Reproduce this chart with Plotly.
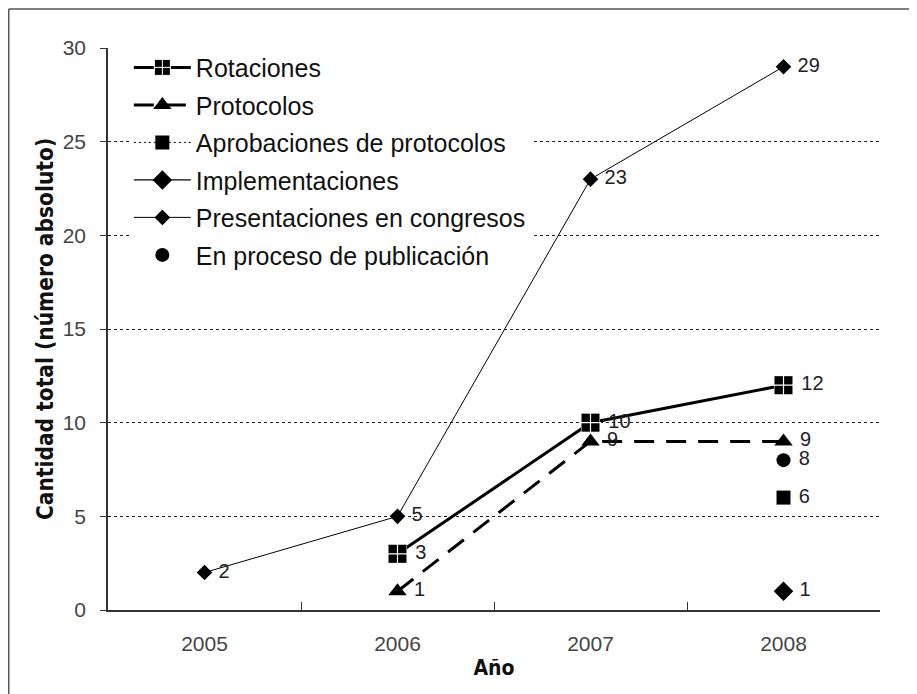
import plotly.graph_objects as go

years = ["2005", "2006", "2007", "2008"]
rotaciones = [None, 3, 10, 12]
protocolos = [None, 1, 9, 9]
aprobaciones = [None, None, None, 6]
implementaciones = [None, None, None, 1]
presentaciones = [2, 5, 23, 29]
publicacion = [None, None, None, 8]

def labels(vals):
    return ["" if v is None else "\u00a0" + str(v) for v in vals]

lab_font = dict(family="Liberation Sans, Arial, sans-serif", size=20, color="#222")
cond = "DejaVu Sans Condensed, Liberation Sans Narrow, Arial Narrow, sans-serif"

fig = go.Figure()

fig.add_trace(go.Scatter(
    x=years, y=rotaciones, name="Rotaciones", mode="lines+markers+text", legendgroup="g1",
    text=labels(rotaciones), textposition="middle right", textfont=lab_font,
    line=dict(color="black", width=3),
    marker=dict(symbol="square-cross", size=18, color="black", line=dict(color="white", width=1)),
))
# solid black square with thin white plus on the plotted points
fig.add_trace(go.Scatter(
    x=years, y=rotaciones, mode="markers", showlegend=False, hoverinfo="skip",
    marker=dict(symbol="square", size=18, color="black"),
))
fig.add_trace(go.Scatter(
    x=years, y=rotaciones, mode="markers", showlegend=False, hoverinfo="skip",
    marker=dict(symbol="cross-thin", size=15, color="white", line=dict(color="white", width=1.2)),
))
fig.add_trace(go.Scatter(
    x=years, y=protocolos, name="Protocolos", mode="lines+markers+text", legendgroup="g2",
    text=labels(protocolos), textposition="middle right", textfont=lab_font,
    line=dict(color="black", width=3, dash="20px,12px"),
    marker=dict(symbol="triangle-up", size=16, color="black"),
))
fig.add_trace(go.Scatter(
    x=years, y=aprobaciones, name="Aprobaciones de protocolos", mode="lines+markers+text", legendgroup="g3",
    text=labels(aprobaciones), textposition="middle right", textfont=lab_font,
    line=dict(color="black", width=1, dash="2px,3px"),
    marker=dict(symbol="square", size=14, color="black"),
))
fig.add_trace(go.Scatter(
    x=years, y=implementaciones, name="Implementaciones", mode="lines+markers+text", legendgroup="g4",
    text=labels(implementaciones), textposition="middle right", textfont=lab_font,
    line=dict(color="black", width=1.2),
    marker=dict(symbol="diamond", size=15, color="black"),
))
fig.add_trace(go.Scatter(
    x=years, y=presentaciones, name="Presentaciones en congresos", mode="lines+markers+text", legendgroup="g5",
    text=labels(presentaciones), textposition="middle right", textfont=lab_font,
    line=dict(color="black", width=1),
    marker=dict(symbol="diamond", size=12, color="black"),
))
fig.add_trace(go.Scatter(
    x=years, y=publicacion, name="En proceso de publicación", mode="markers+text", legendgroup="g6",
    text=labels(publicacion), textposition="middle right", textfont=lab_font,
    marker=dict(symbol="circle", size=14, color="black"),
))

tick_font = dict(family="Liberation Sans, Arial, sans-serif", size=21, color="#444")

fig.update_layout(
    width=909, height=686,
    margin=dict(l=100, r=37, t=40, b=84),
    paper_bgcolor="white", plot_bgcolor="white",
    showlegend=True,
    legend=dict(
        x=0.027, y=1.006, xanchor="left", yanchor="top",
        bgcolor="white", borderwidth=0,
        font=dict(family="Liberation Sans, Arial, sans-serif", size=25, color="#111"),
        itemwidth=57, tracegroupgap=2, itemsizing="trace",
    ),
    xaxis=dict(
        type="category", range=[-0.5, 3.5], automargin=False,
        showline=True, linecolor="#333", linewidth=1.5,
        ticks="inside", ticklen=8, tickcolor="#333", tickson="boundaries",
        showgrid=False, tickfont=tick_font, ticklabelstandoff=14,
        title=dict(text="<b>Año</b>", font=dict(family=cond, size=21, color="#111"), standoff=6),
    ),
    yaxis=dict(
        range=[0, 30], dtick=5, automargin=False,
        showline=True, linecolor="#333", linewidth=1.5,
        ticks="outside", ticklen=6, tickcolor="#333",
        showgrid=True, gridcolor="#222", gridwidth=1, griddash="3px,3px",
        zeroline=False, tickfont=tick_font, ticklabelstandoff=10,
        title=dict(text="<b>Cantidad total (número absoluto)</b>", font=dict(family=cond, size=22.5, color="#111"), standoff=3),
    ),
    shapes=[
        dict(type="line", xref="paper", yref="paper", x0=-0.1286, x1=1.05, y0=1.0694, y1=1.0694,
             line=dict(color="#555", width=1.5)),
        dict(type="line", xref="paper", yref="paper", x0=-0.1286, x1=-0.1286, y0=1.0694, y1=-0.16,
             line=dict(color="#555", width=1.5)),
    ],
)

fig.write_html("out.html")
